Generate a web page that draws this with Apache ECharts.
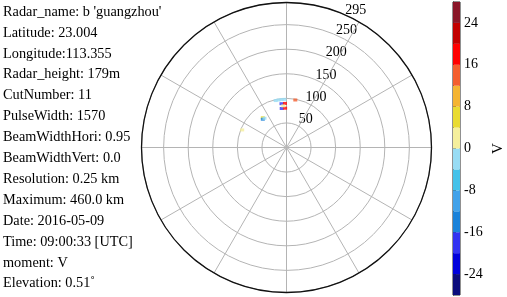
<!DOCTYPE html>
<html>
<head>
<meta charset="utf-8">
<script src="https://cdn.jsdelivr.net/npm/echarts@6/dist/echarts.min.js"></script>
</head>
<body style="margin:0;">
<div id="main" style="width:507px;height:297px;"></div>
<script type="text/javascript">
// radar info shown on the left
var infoLines = [
    "Radar_name: b 'guangzhou'",
    'Latitude: 23.004',
    'Longitude:113.355',
    'Radar_height: 179m',
    'CutNumber: 11',
    'PulseWidth: 1570',
    'BeamWidthHori: 0.95',
    'BeamWidthVert: 0.0',
    'Resolution: 0.25 km',
    'Maximum: 460.0 km',
    'Date: 2016-05-09',
    'Time: 09:00:33 [UTC]',
    'moment: V',
    'Elevation: 0.51\u02da'
];
// range ring labels (km)
var rTicks = [50, 100, 150, 200, 250, 295];
// colour bar
var bandEdges = [-28, -24, -20, -16, -12, -8, -4, 0, 4, 8, 12, 16, 20, 24, 28];
var bandColors = ['#0c0c7c', '#0000dc', '#3232f2', '#1a82da', '#42a2ea', '#44c2ea', '#98dcf4',
    '#f5ef9c', '#e9db32', '#f4b432', '#f45e2e', '#ff0000', '#c20000', '#8a1628'];
var cbTicks = [-24, -16, -8, 0, 8, 16, 24];
// echoes: [range km, azimuth deg, velocity]
var echoes = [
    [89.7, 353.5, -18], [89.7, 358.0, 18],
    [80.0, 353.0, -18], [80.0, 358.0, 18],
    [98.0, 347.0, -2], [98.0, 350.5, -2], [98.0, 354.0, -2], [98.0, 357.5, -2],
    [85.0, 355.5, 2],
    [98.3, 10.5, 14],
    [77.5, 321.5, 6], [75.0, 320.0, -14], [74.5, 323.0, -2],
    [97.0, 291.6, 2]
];

var bands = [];
for (var i = 0; i < bandColors.length; i++) {
    bands.push([bandEdges[i], bandEdges[i + 1]]);
}
function colorOf(v) {
    for (var i = 0; i < bandColors.length; i++) {
        if (v >= bandEdges[i] && v < bandEdges[i + 1]) return bandColors[i];
    }
    return bandColors[bandColors.length - 1];
}

var serif = 'Liberation Serif';
var myChart = echarts.init(document.getElementById('main'));
var option = {
    animation: false,
    title: {
        left: 3, top: 1.5, padding: 0,
        text: infoLines.join('\n'),
        textStyle: { fontFamily: serif, fontSize: 14.3, fontWeight: 'normal', color: '#000', lineHeight: 20.9 }
    },
    polar: [
        { center: [286.5, 147.5], radius: 145 },
        { center: [286.5, 147.5], radius: 145 }
    ],
    angleAxis: [
        {
            polarIndex: 0, type: 'value', min: 0, max: 360, interval: 30,
            startAngle: 90, clockwise: true, z: 3,
            axisLine: { lineStyle: { color: '#111', width: 1.3 } },
            axisTick: { show: false }, axisLabel: { show: false },
            splitLine: { lineStyle: { color: '#b4b4b4', width: 1 } }
        },
        { polarIndex: 1, type: 'value', min: 0, max: 360, startAngle: 65.5, show: false }
    ],
    radiusAxis: [
        {
            polarIndex: 0, type: 'value', min: 0, max: 295, interval: 50,
            axisLine: { show: false }, axisTick: { show: false }, axisLabel: { show: false },
            splitLine: { lineStyle: { color: '#b4b4b4', width: 1 } }
        },
        {
            polarIndex: 1, type: 'value', min: 0, max: 295,
            axisLine: { show: false }, axisTick: { show: false }, splitLine: { show: false },
            axisLabel: {
                customValues: rTicks, margin: 0, align: 'center', verticalAlign: 'bottom',
                lineHeight: 11, padding: [0, 0, 0, 18], fontFamily: serif, fontSize: 14, color: '#000'
            }
        }
    ],
    grid: {
        left: 453, top: 2, width: 15, height: 293,
        show: true, borderColor: '#222', borderWidth: 1, backgroundColor: 'transparent'
    },
    xAxis: { type: 'value', min: 0, max: 1, show: false },
    yAxis: {
        type: 'value', min: -28, max: 28, position: 'right',
        axisLine: { show: true, lineStyle: { color: '#222' } },
        axisTick: { show: true, customValues: cbTicks, length: 3, lineStyle: { color: '#222' } },
        axisLabel: { customValues: cbTicks, fontFamily: serif, fontSize: 14, color: '#000', margin: 4 },
        splitLine: { show: false },
        name: 'V', nameLocation: 'middle', nameGap: 31,
        nameTextStyle: { fontFamily: serif, fontSize: 15, color: '#000' }
    },
    series: [
        {
            type: 'scatter', coordinateSystem: 'polar', polarIndex: 0,
            symbol: 'rect', symbolSize: [4, 3],
            data: echoes,
            itemStyle: { color: function (p) { return colorOf(p.value[2]); } },
            z: 5
        },
        {
            type: 'custom', xAxisIndex: 0, yAxisIndex: 0,
            data: bands,
            renderItem: function (params, api) {
                var p0 = api.coord([0, api.value(1)]);
                var p1 = api.coord([1, api.value(0)]);
                return {
                    type: 'rect',
                    shape: { x: p0[0], y: p0[1], width: p1[0] - p0[0], height: p1[1] - p0[1] },
                    style: { fill: bandColors[params.dataIndex] }
                };
            }
        }
    ]
};
myChart.setOption(option);
</script>
</body>
</html>
